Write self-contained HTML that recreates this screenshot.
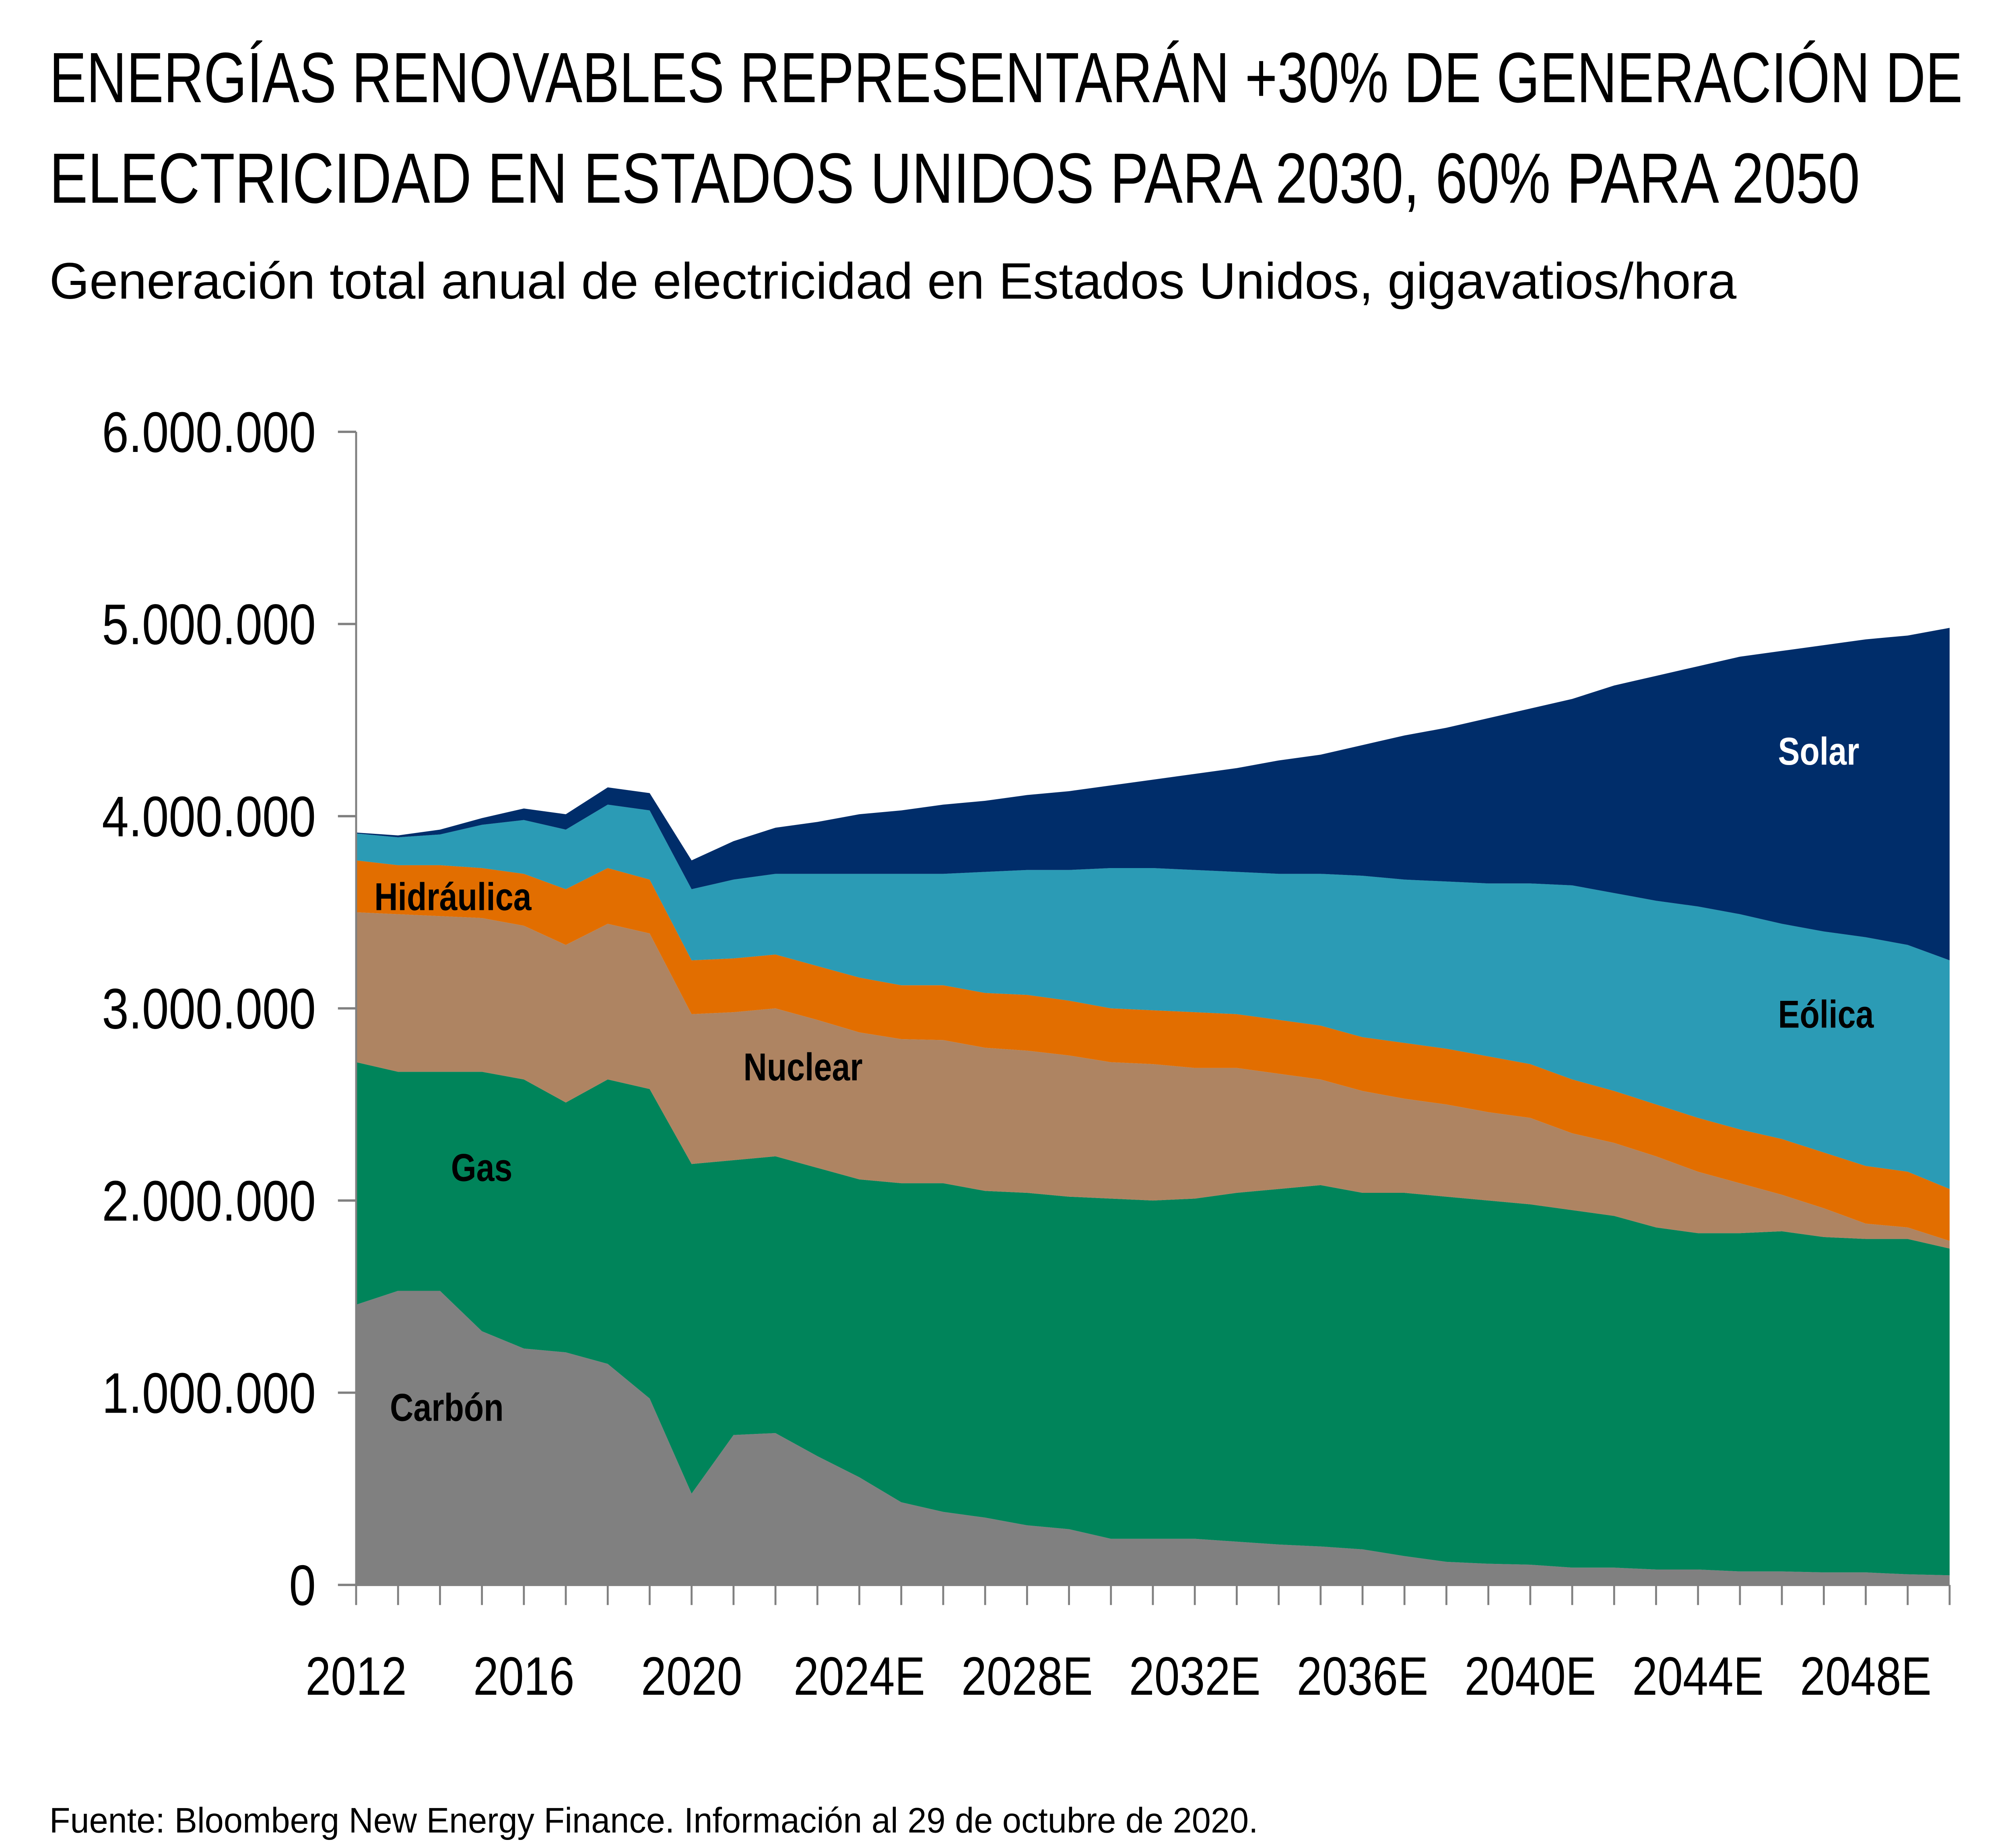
<!DOCTYPE html>
<html><head><meta charset="utf-8"><style>
html,body{margin:0;padding:0;background:#fff;overflow:hidden;width:100%;height:100%}
svg{display:block;width:100vw;height:100vh}
text{font-family:"Liberation Sans",sans-serif}
</style></head><body>
<svg id="chart" viewBox="0 0 1548 1194" preserveAspectRatio="none" xmlns="http://www.w3.org/2000/svg">
<text x="38" y="66" font-size="46" textLength="1472" lengthAdjust="spacingAndGlyphs">ENERGÍAS RENOVABLES REPRESENTARÁN +30% DE GENERACIÓN DE</text>
<text x="38" y="131" font-size="46" textLength="1393" lengthAdjust="spacingAndGlyphs">ELECTRICIDAD EN ESTADOS UNIDOS PARA 2030, 60% PARA 2050</text>
<text x="38" y="193" font-size="33" textLength="1298" lengthAdjust="spacingAndGlyphs">Generación total anual de electricidad en Estados Unidos, gigavatios/hora</text>
<g id="areas"></g>
<g id="axes"></g>
<g id="labels">
<text x="288" y="588" font-size="25" font-weight="bold">Hidráulica</text>
<text x="572" y="698" font-size="25" font-weight="bold">Nuclear</text>
<text x="347" y="763" font-size="25" font-weight="bold">Gas</text>
<text x="300" y="918" font-size="25" font-weight="bold">Carbón</text>
<text x="1368" y="494" font-size="25" font-weight="bold" fill="#fff">Solar</text>
<text x="1368" y="664" font-size="25" font-weight="bold">Eólica</text>
</g>
<text x="38" y="1184" font-size="23" textLength="930" lengthAdjust="spacingAndGlyphs">Fuente: Bloomberg New Energy Finance. Información al 29 de octubre de 2020.</text>
</svg>
<script>
// values in thousands of GWh
const years = [2012,2013,2014,2015,2016,2017,2018,2019,2020,2021,2022,2023,2024,2025,2026,2027,2028,2029,2030,2031,2032,2033,2034,2035,2036,2037,2038,2039,2040,2041,2042,2043,2044,2045,2046,2047,2048,2049,2050];
const coal = [1458,1530,1530,1320,1230,1210,1150,970,475,780,790,670,560,430,380,350,310,290,240,240,240,225,210,200,185,150,120,110,105,90,90,80,80,70,70,65,65,55,50];
const gas = [1262,1140,1140,1350,1400,1300,1480,1610,1715,1430,1440,1500,1550,1660,1710,1700,1730,1730,1770,1760,1770,1815,1850,1880,1855,1890,1900,1890,1875,1860,1830,1780,1750,1760,1770,1745,1735,1745,1700];
const nuclear = [780,820,810,800,800,820,810,810,780,770,770,770,765,750,745,745,740,735,710,710,680,650,600,550,530,490,480,460,450,400,380,370,320,260,190,150,80,60,40];
const hydro = [270,255,265,260,270,290,290,280,280,280,280,280,285,280,285,285,290,285,280,280,290,280,280,280,280,290,290,290,280,280,270,270,280,280,290,290,300,290,270];
const wind = [140,145,160,225,280,310,330,360,370,410,420,480,540,580,580,630,650,680,730,740,740,740,760,790,840,850,870,900,940,1010,1030,1060,1100,1120,1120,1150,1190,1180,1190];
const solar = [5,10,25,35,60,80,90,90,150,200,240,270,310,330,360,370,390,410,430,460,500,540,590,620,680,750,800,860,910,970,1080,1170,1250,1340,1420,1490,1550,1610,1730];
const yTicks = [0,1000,2000,3000,4000,5000,6000];
const yTickLabels = ["0","1.000.000","2.000.000","3.000.000","4.000.000","5.000.000","6.000.000"];
const xLabels = ["2012","2016","2020","2024E","2028E","2032E","2036E","2040E","2044E","2048E"];

const NS="http://www.w3.org/2000/svg";
const X0=274,X1=1500,Y0=1024,Y1=279,YMAX=6000;
function xs(i){return X0+(X1-X0)*i/(years.length-1);}
function ys(v){return Y0-(Y0-Y1)*v/YMAX;}
const series=[["coal",coal,"#808080"],["gas",gas,"#00845a"],["nuclear",nuclear,"#ae8462"],["hydro",hydro,"#e26e00"],["wind",wind,"#2b9bb5"],["solar",solar,"#002d6a"]];
const areas=document.getElementById('areas');
let base=years.map(()=>0);
series.forEach(([name,vals,col])=>{
  const top=base.map((b,i)=>b+vals[i]);
  let d="";
  top.forEach((v,i)=>{d+=(i?"L":"M")+xs(i).toFixed(2)+","+ys(v).toFixed(2);});
  for(let i=base.length-1;i>=0;i--)d+="L"+xs(i).toFixed(2)+","+ys(base[i]).toFixed(2);
  d+="Z";
  const p=document.createElementNS(NS,"path");
  
  
  p.setAttribute("d",d);p.setAttribute("fill",col);
  areas.appendChild(p);
  base=top;
});
const axes=document.getElementById('axes');
function line(x1,y1,x2,y2,name){
  const l=document.createElementNS(NS,"line");
  
  
  l.setAttribute("x1",x1);l.setAttribute("y1",y1);l.setAttribute("x2",x2);l.setAttribute("y2",y2);
  l.setAttribute("stroke","#808080");l.setAttribute("stroke-width","1.5");
  axes.appendChild(l);
}
line(X0,Y1,X0,Y0,'y-axis-line');
line(X0,Y0,X1,Y0,'x-axis-line');
yTicks.forEach((v,i)=>{
  line(X0-14,ys(v),X0,ys(v),'y-tick');
  const t=document.createElementNS(NS,"text");
  
  
  t.setAttribute("x",243);t.setAttribute("y",ys(v)+13);
  t.setAttribute("font-size","37");t.setAttribute("text-anchor","end");
  t.textContent=yTickLabels[i];
  axes.appendChild(t);
});
years.forEach((y,i)=>{line(xs(i),Y0,xs(i),Y0+13,'x-tick');});
xLabels.forEach((lab,k)=>{
  const t=document.createElementNS(NS,"text");
  
  
  t.setAttribute("x",xs(k*4));t.setAttribute("y",1095);
  t.setAttribute("font-size","35");t.setAttribute("text-anchor","middle");
  t.textContent=lab;
  axes.appendChild(t);
});
</script>
</body></html>
